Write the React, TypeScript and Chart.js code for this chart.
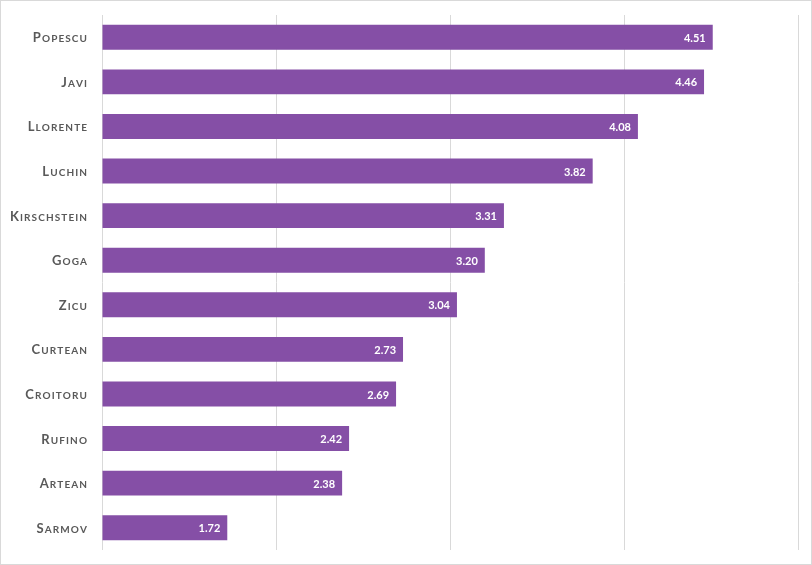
import { useEffect, useRef } from 'react';
import Chart from 'chart.js/auto';
import type { Plugin } from 'chart.js';

const players = [
  'Popescu',
  'Javi',
  'Llorente',
  'Luchin',
  'Kirschstein',
  'Goga',
  'Zicu',
  'Curtean',
  'Croitoru',
  'Rufino',
  'Artean',
  'Sarmov',
];

const ratings = [4.51, 4.46, 4.08, 3.82, 3.31, 3.2, 3.04, 2.73, 2.69, 2.42, 2.38, 1.72];

const axisMin = 1;
const axisMax = 5;

const fontFamily = 'Lato, "Open Sans", sans-serif';

// white value text near the end of each bar
const valueLabels: Plugin<'bar'> = {
  id: 'valueLabels',
  afterDatasetsDraw(chart) {
    const { ctx } = chart;
    const meta = chart.getDatasetMeta(0);
    ctx.save();
    ctx.font = `bold 11px ${fontFamily}`;
    ctx.fillStyle = '#ffffff';
    ctx.textAlign = 'right';
    ctx.textBaseline = 'middle';
    meta.data.forEach((bar, i) => {
      const { x, y } = bar.getProps(['x', 'y'], true);
      ctx.fillText(ratings[i].toFixed(2), x - 7, y + 1);
    });
    ctx.restore();
  },
};

// canvas has no small-caps, so the category names are drawn by hand
const smallCapsLabels: Plugin<'bar'> = {
  id: 'smallCapsLabels',
  afterDraw(chart) {
    const { ctx } = chart;
    const yScale = chart.scales.y;
    const right = chart.chartArea.left - 15;
    const bigFont = `bold 13px ${fontFamily}`;
    const smallFont = `bold 10px ${fontFamily}`;
    const spacing = 1.1;
    ctx.save();
    ctx.fillStyle = '#595959';
    ctx.textAlign = 'left';
    ctx.textBaseline = 'alphabetic';
    players.forEach((name, i) => {
      const chars = name.toUpperCase().split('');
      const widths = chars.map((c, j) => {
        ctx.font = j === 0 ? bigFont : smallFont;
        return ctx.measureText(c).width;
      });
      const total = widths.reduce((a, b) => a + b, 0) + spacing * (chars.length - 1);
      let x = right - total;
      const baseline = yScale.getPixelForTick(i) + 5;
      chars.forEach((c, j) => {
        ctx.font = j === 0 ? bigFont : smallFont;
        ctx.fillText(c, x, baseline);
        x += widths[j] + spacing;
      });
    });
    ctx.restore();
  },
};

export default function App() {
  const canvasRef = useRef<HTMLCanvasElement | null>(null);

  useEffect(() => {
    document.body.style.margin = '0';
    if (!canvasRef.current) {
      return;
    }

    const chart = new Chart(canvasRef.current, {
      type: 'bar',
      plugins: [valueLabels, smallCapsLabels],
      data: {
        labels: players,
        datasets: [
          {
            data: ratings,
            backgroundColor: '#854fa6',
            barPercentage: 0.56,
            categoryPercentage: 1,
            base: axisMin,
          },
        ],
      },
      options: {
        indexAxis: 'y',
        animation: false,
        responsive: false,
        events: [],
        layout: {
          padding: { top: 14, right: 13, bottom: 14, left: 101 },
        },
        plugins: {
          legend: { display: false },
          tooltip: { enabled: false },
        },
        scales: {
          x: {
            min: axisMin,
            max: axisMax,
            ticks: { display: false, stepSize: 1 },
            grid: { color: '#d9d9d9', drawTicks: false },
            border: { display: false },
            afterFit: (scale) => {
              scale.height = 0;
            },
          },
          y: {
            grid: { display: false },
            border: { display: false },
            ticks: { display: false },
            afterFit: (scale) => {
              scale.width = 0;
            },
          },
        },
      },
    });

    return () => {
      chart.destroy();
    };
  }, []);

  return (
    <div
      style={{
        width: 812,
        height: 565,
        boxSizing: 'border-box',
        border: '1px solid #d9d9d9',
        background: '#ffffff',
      }}
    >
      <canvas ref={canvasRef} width={810} height={563} style={{ display: 'block' }} />
    </div>
  );
}
